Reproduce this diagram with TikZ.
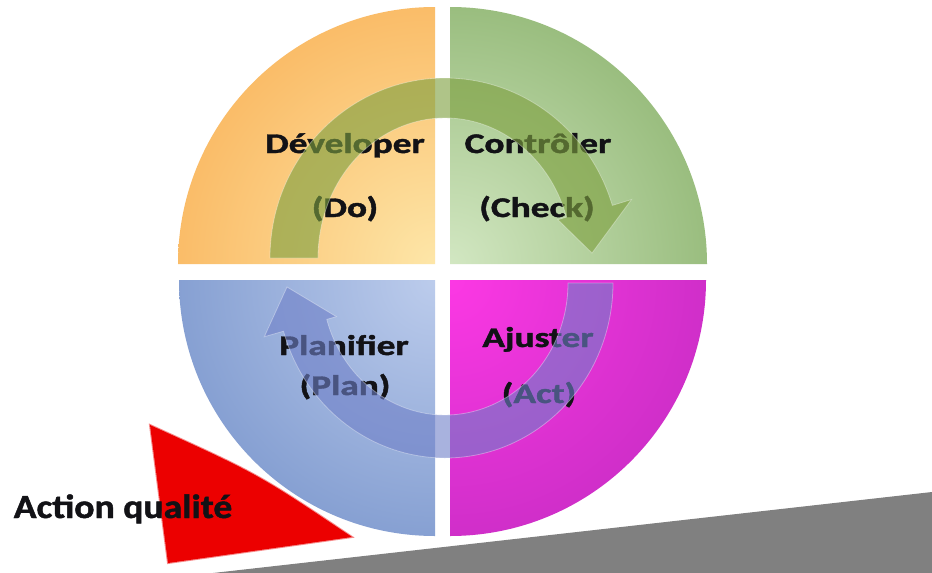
\documentclass[tikz,border=0pt]{standalone}
\usepackage{fontspec}
\setmainfont{Carlito}[BoldFeatures={FakeBold=1.3}]
\usetikzlibrary{calc}
\definecolor{orangeD}{RGB}{248,162,64}
\definecolor{orangeL}{RGB}{253,230,168}
\definecolor{greenD}{RGB}{118,163,84}
\definecolor{greenL}{RGB}{210,231,194}
\definecolor{blueD}{RGB}{100,132,194}
\definecolor{blueL}{RGB}{188,204,236}
\definecolor{magD}{RGB}{176,40,182}
\definecolor{magL}{RGB}{252,56,228}
\definecolor{arrowG}{RGB}{126,160,64}
\definecolor{arrowB}{RGB}{111,128,200}
\definecolor{greyband}{RGB}{128,128,128}
\definecolor{txt}{RGB}{18,18,22}
\definecolor{redtri}{RGB}{236,0,0}
\begin{document}
\begin{tikzpicture}[x=1pt,y=-1pt,
  lbl/.style={font=\fontsize{28.5}{30}\selectfont\bfseries, text=txt, anchor=base, inner sep=0pt},
  lblbig/.style={font=\fontsize{33.6}{36}\selectfont\bfseries, text=txt, anchor=base, inner sep=0pt},
  arrowfillG/.style={fill=arrowG, fill opacity=0.62, draw=white, draw opacity=0.35, line width=0.8pt},
  arrowfillB/.style={fill=arrowB, fill opacity=0.6, draw=white, draw opacity=0.35, line width=0.8pt}]
\useasboundingbox (0,0) rectangle (932,573);
\fill[white] (0,0) rectangle (932,573);

% grey band
\fill[greyband] (213,573) -- (932,492) -- (932,573) -- cycle;

% quadrants
\begin{scope}
\clip (435,264) -- (178,264) arc[start angle=180,end angle=270,radius=257] -- cycle;
\shade[inner color=orangeL, outer color=orangeD] (435,264) circle (420pt);
\end{scope}
\begin{scope}
\clip (450,264) -- (450,7) arc[start angle=270,end angle=360,radius=257] -- cycle;
\shade[inner color=greenL, outer color=greenD] (450,264) circle (420pt);
\end{scope}
\begin{scope}
\clip (435,280) -- (435,536) arc[start angle=90,end angle=180,radius=256] -- cycle;
\shade[inner color=blueL, outer color=blueD] (435,280) circle (420pt);
\end{scope}
\begin{scope}
\clip (450,280) -- (706,280) arc[start angle=0,end angle=90,radius=256] -- cycle;
\shade[inner color=magL, outer color=magD] (450,280) circle (440pt);
\end{scope}

% red triangle
\fill[redtri] (150,425) .. controls (258,474) .. (352,537) -- (168,563) -- cycle;
\draw[redtri, line width=2pt, opacity=0.45] (150,425) .. controls (258,474) .. (352,537) -- (168,563) -- cycle;

% labels
\node[lbl] (dev) at (345,153) {\scalebox{1.31}[1]{Déveloper}};
\node[lbl] (do) at (345,217) {\scalebox{1.31}[1]{(Do)}};
\node[lbl] (con) at (538,153) {\scalebox{1.31}[1]{Contrôler}};
\node[lbl] (check) at (537,217) {\scalebox{1.31}[1]{(Check)}};
\node[lbl] (pla) at (344,355) {\scalebox{1.31}[1]{Planifier}};
\node[lbl] (plan) at (345,395) {\scalebox{1.31}[1]{(Plan)}};
\node[lbl] (aju) at (538,347) {\scalebox{1.31}[1]{Ajuster}};
\node[lbl] (act) at (539,403) {\scalebox{1.31}[1]{(Act)}};
\node[lblbig] (aq) at (123,518) {\scalebox{1.12}[1]{Action qualité}};

% top circular arrow
\coordinate (Ct) at (445,258);
\path[arrowfillG] (270,258) arc[start angle=180,end angle=343,x radius=175,y radius=180]
  -- ($(Ct)+(343:195 and 200)$) -- (592,253) -- ($(Ct)+(343:118 and 131)$)
  -- ($(Ct)+(343:127 and 140)$) arc[start angle=343,end angle=180,x radius=127,y radius=140] -- cycle;

% bottom circular arrow
\coordinate (Cb) at (445,283);
\path[arrowfillB] (613,283) arc[start angle=0,end angle=164,x radius=168,y radius=175]
  -- ($(Cb)+(164:188 and 195)$) -- (287,287) -- ($(Cb)+(164:113 and 122)$)
  -- ($(Cb)+(164:123 and 132)$) arc[start angle=164,end angle=0,x radius=123,y radius=132] -- cycle;
\end{tikzpicture}
\end{document}
